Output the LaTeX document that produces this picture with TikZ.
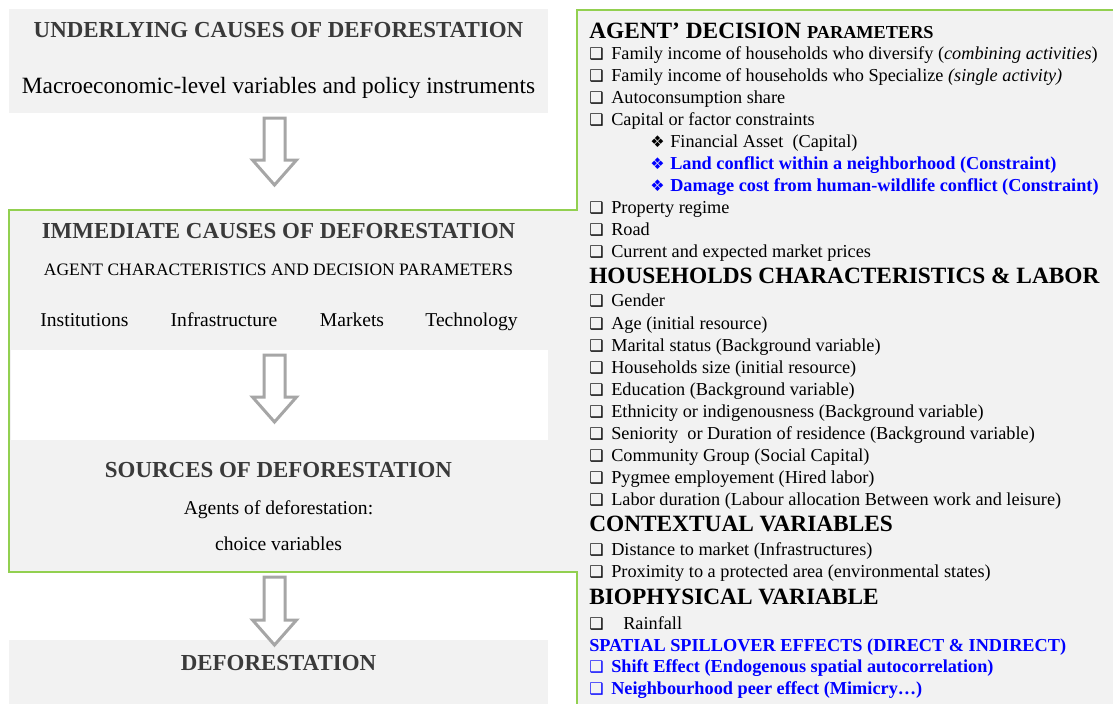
\documentclass[tikz,border=0pt]{standalone}
\usepackage{fontspec}
\setmainfont{Liberation Serif}
\newfontfamily\symfnt{DejaVu Sans}

\definecolor{panelgray}{RGB}{242,242,242}
\definecolor{titlegray}{RGB}{58,58,58}
\definecolor{framegreen}{RGB}{146,208,80}
\definecolor{arrowgray}{RGB}{166,166,166}
\definecolor{spatialblue}{RGB}{0,0,255}

% check box and diamond bullets
\newcommand{\cb}{\makebox[16.5pt][l]{\fontsize{12}{12}\symfnt ❑}}
\newcommand{\cbwide}{\makebox[25.5pt][l]{\fontsize{12}{12}\symfnt ❑}}
\newcommand{\dia}{\makebox[15pt][l]{\fontsize{12}{12}\symfnt ❖}}

% hollow block arrow: centre x, top y, tip y
\newcommand{\blockarrow}[3]{%
  \draw[bigarrow] (#1-10.5,#2) -- (#1+10.5,#2) -- (#1+10.5,#3-25) -- (#1+22,#3-25)
    -- (#1,#3) -- (#1-22,#3-25) -- (#1-10.5,#3-25) -- cycle;}

\begin{document}
\begin{tikzpicture}[x=0.75pt, y=-0.75pt,
    title/.style={anchor=base, inner sep=0, text=titlegray,
      font=\fontsize{17.2}{20}\selectfont\bfseries},
    macro/.style={anchor=base, inner sep=0, font=\fontsize{17.5}{20}\selectfont},
    smallcaps/.style={anchor=base, inner sep=0, font=\fontsize{13.1}{16}\selectfont},
    factor/.style={anchor=base, inner sep=0, font=\fontsize{14.7}{17}\selectfont},
    item/.style={anchor=base west, inner sep=0, font=\fontsize{13.7}{16}\selectfont},
    blueitem/.style={item, text=spatialblue, font=\fontsize{13.7}{16}\selectfont\bfseries},
    head/.style={anchor=base west, inner sep=0, font=\fontsize{17.5}{20}\selectfont\bfseries},
    frame/.style={draw=framegreen, line width=1.5pt},
    bigarrow/.style={draw=arrowgray, fill=white, line width=2.25pt, line join=miter}]
    \useasboundingbox (0,0) rectangle (1113,704);

    % Panels
    \fill[panelgray] (577,10) rectangle (1113,704);
    \fill[panelgray] (9,210) rectangle (577,572);
    \fill[white] (11,350) rectangle (548,440);
    \fill[panelgray] (9,9) rectangle (548,113);
    \fill[panelgray] (9,640) rectangle (548,704);

    % Green frame
    \draw[frame] (1113,10) -- (577,10) -- (577,210) -- (9,210) -- (9,572) -- (577,572) -- (577,704);

    % Arrows
    \blockarrow{274.5}{118}{185}
    \blockarrow{274.5}{355}{422}
    \blockarrow{274.5}{577}{645}

    % Left column
    \node[title] (under) at (278.5,37.5) {UNDERLYING CAUSES OF DEFORESTATION};
    \node[macro] (macrovar) at (278.5,93) {Macroeconomic-level variables and policy instruments};
    \node[title] (immed) at (278.5,238.5) {IMMEDIATE CAUSES OF DEFORESTATION};
    \node[smallcaps] (agentchar) at (278.5,275.5) {AGENT CHARACTERISTICS AND DECISION PARAMETERS};
    \node[factor] (inst) at (84.5,326.5) {Institutions};
    \node[factor] (infra) at (224,326.5) {Infrastructure};
    \node[factor] (mark) at (352,326.5) {Markets};
    \node[factor] (tech) at (471.5,326.5) {Technology};
    \node[title] (sources) at (278.5,477.5) {SOURCES OF DEFORESTATION};
    \node[factor] (agents) at (278.5,514.5) {Agents of deforestation:};
    \node[factor] (choice) at (278.5,550.5) {choice variables};
    \node[title] (defor) at (278.5,670.5) {DEFORESTATION};

    % Right column: decision parameters
    \node[head] (hdecision) at (589,38.5) {AGENT’ DECISION {\fontsize{13.7}{16}\selectfont PARAMETERS}};
    \node[item] (diversify) at (589,59) {\cb Family income of households who diversify (\textit{combining activities})};
    \node[item] (specialize) at (589,81) {\cb Family income of households who Specialize \textit{(single activity)}};
    \node[item] (autocons) at (589,103) {\cb Autoconsumption share};
    \node[item] (capital) at (589,125) {\cb Capital or factor constraints};
    \node[item] (finasset) at (650,147) {\dia Financial Asset~ (Capital)};
    \node[blueitem] (landconf) at (650,169) {\dia Land conflict within a neighborhood (Constraint)};
    \node[blueitem] (damage) at (650,191.5) {\dia Damage cost from human-wildlife conflict (Constraint)};
    \node[item] (property) at (589,213.5) {\cb Property regime};
    \node[item] (road) at (589,235.5) {\cb Road};
    \node[item] (prices) at (589,257.5) {\cb Current and expected market prices};

    % Right column: households
    \node[head] (hhouse) at (589,283.5) {HOUSEHOLDS CHARACTERISTICS \& LABOR};
    \node[item] (gender) at (589,306.5) {\cb Gender};
    \node[item] (age) at (589,329) {\cb Age (initial resource)};
    \node[item] (marital) at (589,351) {\cb Marital status (Background variable)};
    \node[item] (hsize) at (589,373) {\cb Households size (initial resource)};
    \node[item] (educ) at (589,395) {\cb Education (Background variable)};
    \node[item] (ethnic) at (589,417) {\cb Ethnicity or indigenousness (Background variable)};
    \node[item] (senior) at (589,439) {\cb Seniority~ or Duration of residence (Background variable)};
    \node[item] (commun) at (589,461) {\cb Community Group (Social Capital)};
    \node[item] (pygmee) at (589,483) {\cb Pygmee employement (Hired labor)};
    \node[item] (labor) at (589,505) {\cb Labor duration (Labour allocation Between work and leisure)};

    % Right column: context, biophysics, spillover
    \node[head] (hcontext) at (589,531.5) {CONTEXTUAL VARIABLES};
    \node[item] (distance) at (589,555) {\cb Distance to market (Infrastructures)};
    \node[item] (protected) at (589,577.5) {\cb Proximity to a protected area (environmental states)};
    \node[head] (hbio) at (589,604.5) {BIOPHYSICAL VARIABLE};
    \node[item] (rain) at (589,629.5) {\cbwide Rainfall};
    \node[blueitem] (hspatial) at (589,651.5) {SPATIAL SPILLOVER EFFECTS (DIRECT \& INDIRECT)};
    \node[blueitem] (shift) at (589,672.5) {\cb Shift Effect (Endogenous spatial autocorrelation)};
    \node[blueitem] (peer) at (589,694) {\cb Neighbourhood peer effect (Mimicry…)};
\end{tikzpicture}
\end{document}
